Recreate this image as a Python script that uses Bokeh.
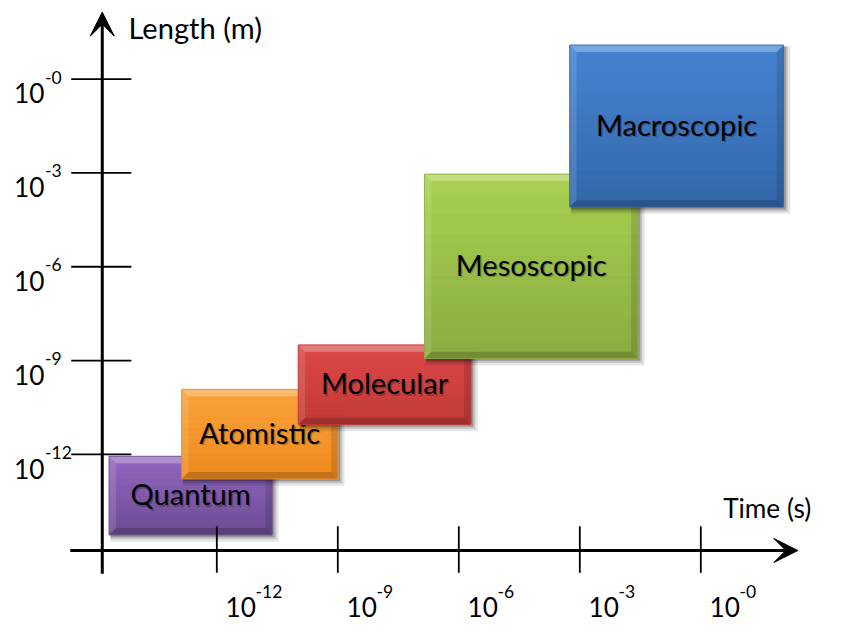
import numpy as np
from bokeh.plotting import figure
from bokeh.models import Range1d, Arrow, VeeHead
from bokeh.core.properties import value
from bokeh.embed import file_html
from bokeh.resources import INLINE

# ---------------- data (log10 exponents) ----------------
levels = ["Quantum", "Atomistic", "Molecular", "Mesoscopic", "Macroscopic"]
time_start = [-14.67, -12.87, -9.98, -6.85, -3.25]
time_end = [-10.63, -9.00, -5.70, -1.56, 2.05]
length_low = [-14.57, -12.78, -11.04, -8.93, -4.09]
length_high = [-12.06, -9.92, -8.50, -3.04, 1.085]
color_top = ["#9467c2", "#fba33a", "#de4848", "#a9d151", "#4585d3"]
color_bottom = ["#6c4b93", "#ef8a1e", "#c23a37", "#8aac40", "#3466a9"]
tick_exps = [-12, -9, -6, -3, 0]
tick_sup = ["-12", "-9", "-6", "-3", "-0"]

# ---------------- layout ----------------
W, H = 831, 624
S = 0.97                          # overall drawing scale so the page fits
XPX, YPX = 41.58, 32.25           # reference pixels per decade
x0r = -12 + (0 - 223) / XPX
y1r = -12 + (468 - 0) / YPX
x_range = Range1d(x0r, x0r + W / S / XPX)
y_range = Range1d(y1r - H / S / YPX, y1r)

def dx(px):
    return px / XPX

def dy(px):
    return px / YPX

def fs(px):
    return "%.1fpx" % (px * S)

axis_x = -14.84   # position of the length axis (in time exponent)
axis_y = -15.07   # position of the time axis (in length exponent)

p = figure(width=W, height=H, x_range=x_range, y_range=y_range,
           x_axis_type=None, y_axis_type=None, toolbar_location=None,
           output_backend="svg", min_border=0, outline_line_color=None)
p.grid.visible = False
p.background_fill_color = "white"

FONT = value("Lato")

def hex2rgb(h):
    h = h.lstrip("#")
    return np.array([int(h[i:i + 2], 16) for i in (0, 2, 4)], dtype=float)

def rgb2hex(c):
    c = np.clip(np.round(c), 0, 255).astype(int)
    return "#%02x%02x%02x" % tuple(c)

N = 18
B = 7  # bevel width px
for i, name in enumerate(levels):
    xa, xb = time_start[i], time_end[i]
    ya, yb = length_low[i], length_high[i]
    # soft drop shadow
    for off, grow, alpha in [(4, 3, 0.10), (3, 1.5, 0.15), (2, 0.5, 0.22)]:
        p.quad(left=xa + dx(off - grow), right=xb + dx(off + grow),
               top=yb - dy(off - grow), bottom=ya - dy(off + grow),
               fill_color="black", fill_alpha=alpha, line_color=None)
    # vertical gradient
    ct, cb = hex2rgb(color_top[i]), hex2rgb(color_bottom[i])
    ys = np.linspace(yb, ya, N + 1)
    cols = [rgb2hex(ct + (cb - ct) * (k + 0.5) / N) for k in range(N)]
    p.quad(left=xa, right=xb, top=ys[:-1], bottom=ys[1:],
           fill_color=cols, line_color=cols, line_width=0.6)
    # bevel
    bx, by = dx(B), dy(B)
    xs = [
        [xa, xb, xb - bx, xa + bx],               # top
        [xa, xb, xb - bx, xa + bx],               # bottom
        [xa, xa + bx, xa + bx, xa],               # left
        [xb, xb - bx, xb - bx, xb],               # right
    ]
    yv = [
        [yb, yb, yb - by, yb - by],
        [ya, ya, ya + by, ya + by],
        [yb, yb - by, ya + by, ya],
        [yb, yb - by, ya + by, ya],
    ]
    p.patches(xs=xs, ys=yv, fill_color=["white", "black", "white", "black"],
              fill_alpha=[0.28, 0.18, 0.12, 0.12], line_color=None)
    p.quad(left=xa, right=xb, top=yb, bottom=ya, fill_color=None,
           line_color=color_bottom[i], line_width=1, line_alpha=0.8)
    # label
    cx, cy = (xa + xb) / 2, (ya + yb) / 2 + dy(2)
    p.text(x=[cx + dx(1.5)], y=[cy - dy(1.5)], text=[name], text_font=FONT,
           text_font_size=fs(30), text_align="center", text_baseline="middle",
           text_color="black", text_alpha=0.25)
    p.text(x=[cx], y=[cy], text=[name], text_font=FONT,
           text_font_size=fs(30), text_align="center", text_baseline="middle",
           text_color="black")

# ---------------- axes ----------------
# tick marks
p.segment(x0=[axis_x - dx(32)] * 5, x1=[axis_x + dx(30)] * 5,
          y0=tick_exps, y1=tick_exps, line_color="black", line_width=1.8)
p.segment(x0=tick_exps, x1=tick_exps, y0=[axis_y + dy(25)] * 5,
          y1=[axis_y - dy(23)] * 5, line_color="black", line_width=1.8)

head_y = VeeHead(size=24, fill_color="black", line_color="black", line_width=1)
head_x = VeeHead(size=24, fill_color="black", line_color="black", line_width=1)
p.add_layout(Arrow(end=head_y, x_start=axis_x, y_start=axis_y - dy(24),
                   x_end=axis_x, y_end=-12 + (468 - 12) / YPX,
                   line_width=3, line_color="black"))
p.add_layout(Arrow(end=head_x, x_start=axis_x - dx(33), y_start=axis_y,
                   x_end=-12 + (822 - 223) / XPX, y_end=axis_y,
                   line_width=3, line_color="black"))

# tick labels (length axis)
p.text(x=[axis_x - dx(91)] * 5, y=[t - dy(14.5) for t in tick_exps],
       text=["10"] * 5, text_font=FONT, text_font_size=fs(27),
       text_align="left", text_baseline="middle", text_color="black")
p.text(x=[axis_x - dx(59)] * 5, y=[t + dy(2) for t in tick_exps],
       text=tick_sup, text_font=FONT, text_font_size=fs(18),
       text_align="left", text_baseline="middle", text_color="black")
# tick labels (time axis)
p.text(x=[t + dx(9) for t in tick_exps], y=[axis_y - dy(58)] * 5,
       text=["10"] * 5, text_font=FONT, text_font_size=fs(27),
       text_align="left", text_baseline="middle", text_color="black")
p.text(x=[t + dx(40) for t in tick_exps], y=[axis_y - dy(42)] * 5,
       text=tick_sup, text_font=FONT, text_font_size=fs(18),
       text_align="left", text_baseline="middle", text_color="black")

# axis titles
p.text(x=[axis_x + dx(27)], y=[-12 + (468 - 28) / YPX], text=["Length (m)"],
       text_font=FONT, text_font_size=fs(30), text_align="left",
       text_baseline="middle", text_color="black")
p.text(x=[-12 + (745 - 223) / XPX], y=[axis_y + dy(44)], text=["Time (s)"],
       text_font=FONT, text_font_size=fs(27), text_align="left",
       text_baseline="middle", text_color="black")

open("out.html", "w").write(file_html(p, INLINE))
